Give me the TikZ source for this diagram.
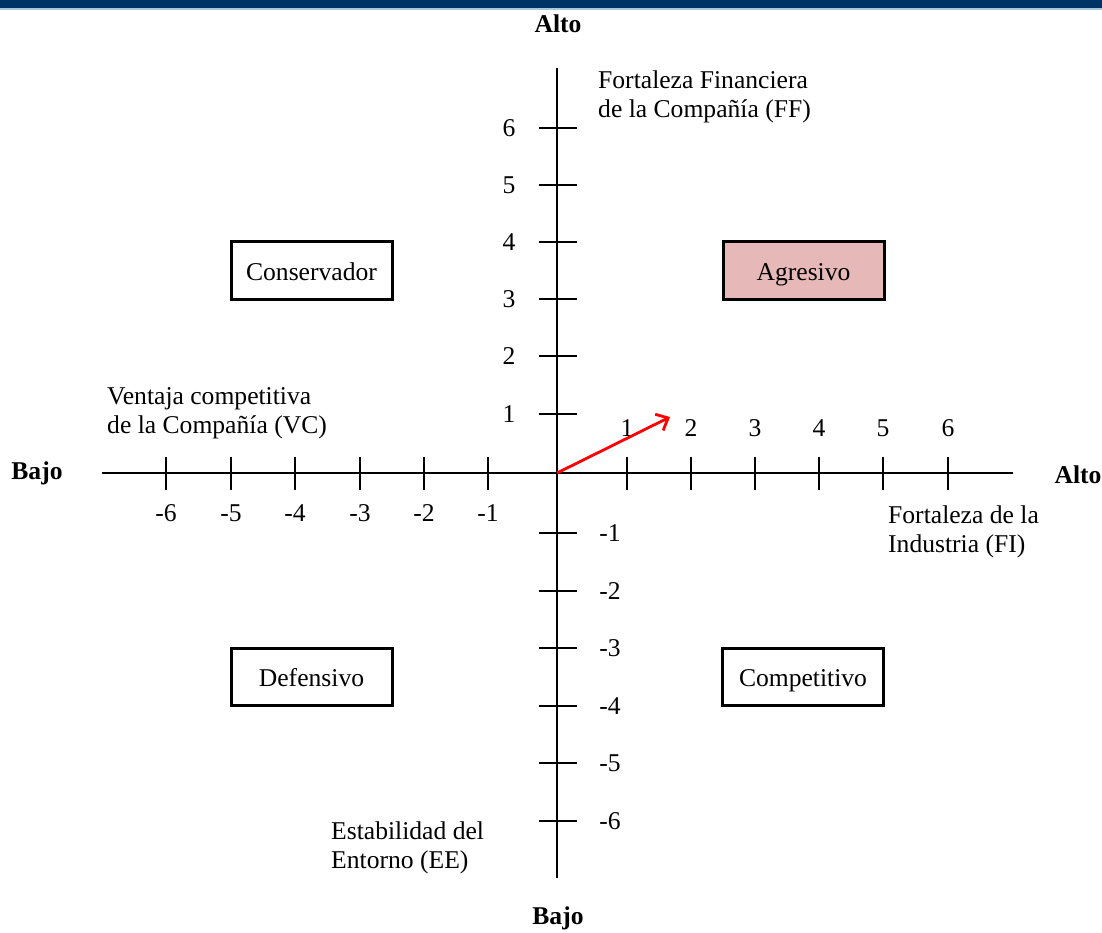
\documentclass[tikz,border=0pt]{standalone}
\usepackage{fontspec}
\setmainfont{Liberation Serif}
\usetikzlibrary{arrows.meta}
\definecolor{navy}{RGB}{0,51,102}
\definecolor{paleline}{RGB}{170,200,220}
\definecolor{agrofill}{RGB}{230,184,183}
\begin{document}
\begin{tikzpicture}[x=1pt,y=-1pt,
  every node/.style={font=\fontsize{25.6}{29.4}\selectfont, inner sep=0pt},
  axis/.style={line width=2.6pt},
  tick/.style={line width=2.6pt},
  quadrant/.style={draw, line width=3pt, minimum width=161pt, minimum height=57pt,
    text height=20pt, text depth=1pt},
  axlabel/.style={font=\fontsize{25.6}{29.4}\selectfont\bfseries},
  caption/.style={align=left, anchor=west}
]
\useasboundingbox (0,0) rectangle (1102,933);
% header band
\fill[navy] (0,0) rectangle (1102,8);
\fill[paleline] (0,8) rectangle (1102,10.5);

% axes
\coordinate (O) at (557,473);
\draw[axis] (557,68) -- (557,878);
\draw[axis] (102,473) -- (1013,473);

% horizontal ticks and labels
\foreach \v/\x in {-6/166,-5/231,-4/295,-3/360,-2/424,-1/488} {
  \draw[tick] (\x,457) -- (\x,490);
  \node (h\v) at (\x,513) {\v};
}
\foreach \v/\x in {1/627,2/691,3/755,4/819,5/883,6/948} {
  \draw[tick] (\x,457) -- (\x,490);
  \node (h\v) at (\x,428) {\v};
}
% vertical ticks and labels
\foreach \v/\y in {6/128,5/185,4/242,3/299,2/356,1/414} {
  \draw[tick] (539,\y) -- (577,\y);
  \node (v\v) at (509,\y) {\v};
}
\foreach \v/\y in {-1/533,-2/591,-3/648,-4/706,-5/763,-6/821} {
  \draw[tick] (539,\y) -- (577,\y);
  \node (v\v) at (610,\y) {\v};
}

% end labels
\node[axlabel] (top) at (558,24) {Alto};
\node[axlabel] (bottom) at (558,918) {Bajo};
\node[axlabel] (left) at (37,473) {Bajo};
\node[axlabel] (right) at (1078,475) {Alto};

% axis captions
\node[caption] (ff) at (598,97) {Fortaleza Financiera\\de la Compañía (FF)};
\node[caption] (vc) at (107,413) {Ventaja competitiva\\de la Compañía (VC)};
\node[caption] (fi) at (888,532) {Fortaleza de la\\Industria (FI)};
\node[caption] (ee) at (331,848) {Estabilidad del\\Entorno (EE)};

% quadrant boxes
\node[quadrant] (cons) at (311.5,270.5) {Conservador};
\node[quadrant, fill=agrofill] (agr) at (803.5,270.5) {Agresivo};
\node[quadrant] (def) at (311.5,676.5) {Defensivo};
\node[quadrant] (comp) at (803,676.5) {Competitivo};

% resulting vector
\coordinate (P) at (670,417);
\draw[red, line width=2.8pt, -{Straight Barb[length=10pt,width=18pt]}] (O) -- (P);
\end{tikzpicture}
\end{document}
